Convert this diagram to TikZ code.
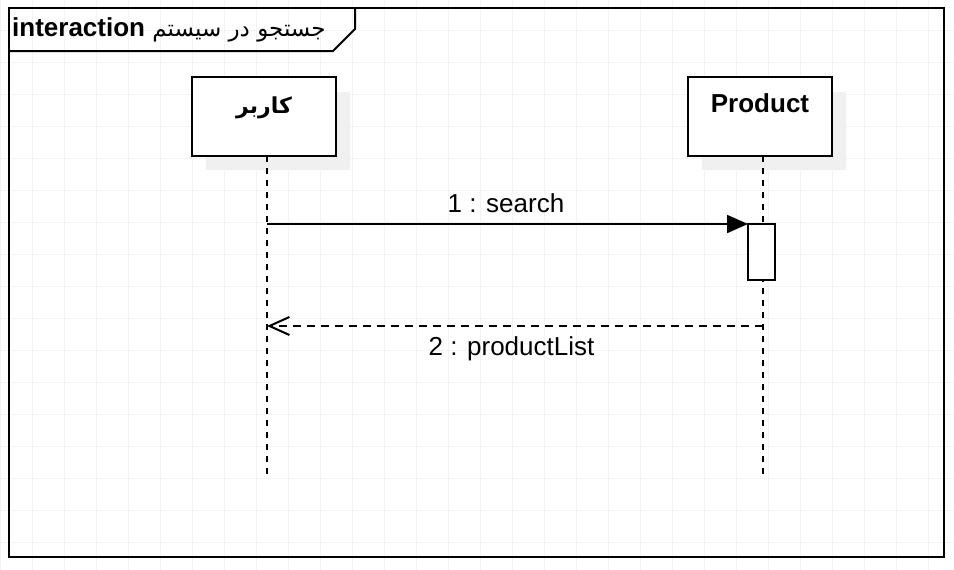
\documentclass[tikz,border=0pt]{standalone}
\usepackage{fontspec}
\setmainfont{Liberation Sans}
\newfontfamily\arabicfont[Script=Arabic]{DejaVu Sans}
\TeXXeTstate=1
\usetikzlibrary{arrows.meta}
\definecolor{gridc}{RGB}{243,243,243}
\definecolor{shadowc}{RGB}{240,240,240}
\begin{document}
\begin{tikzpicture}[x=1pt,y=-1pt,
  lbl/.style={font=\fontsize{26}{30}\selectfont, inner sep=0pt, anchor=base},
  blbl/.style={font=\fontsize{26}{30}\selectfont\bfseries, inner sep=0pt, anchor=base},
  partbox/.style={draw, line width=2pt, fill=white, minimum width=144pt, minimum height=79pt, inner sep=0pt, outer sep=0pt, anchor=north west},
  actbox/.style={draw, line width=2pt, fill=white, minimum width=27pt, minimum height=56pt, inner sep=0pt, outer sep=0pt, anchor=north west},
  lifeline/.style={line width=2pt, dash pattern=on 6pt off 6pt},
  callmsg/.style={line width=2pt, -{Triangle[length=21pt,width=18pt]}},
  replymsg/.style={line width=2pt, dash pattern=on 8pt off 6pt, -{Straight Barb[length=20pt,width=18pt,line width=2pt]}},
  framepen/.style={line width=2pt}
]
\useasboundingbox (0,0) rectangle (954,570);
\fill[white] (0,0) rectangle (954,570);
% grid
\foreach \x in {0,32,...,954} \draw[gridc, line width=1pt] (\x,0) -- (\x,570);
\foreach \y in {30,62,...,570} \draw[gridc, line width=1pt] (0,\y) -- (954,\y);
% frame
\draw[framepen] (9,8) rectangle (944,557);
\draw[framepen] (9,51) -- (333,51) -- (355,29) -- (355,8);
\node[anchor=base west, inner sep=0pt] (title) at (12,36) {\fontsize{26}{30}\selectfont\textbf{interaction} {\arabicfont\fontsize{23}{28}\selectfont\beginR جستجو در سیستم\endR}};
% shadows
\fill[shadowc] (206,92) rectangle (350,170);
\fill[shadowc] (702,92) rectangle (846,170);
% participants
\node[partbox] (u) at (192,77) {};
\node[partbox] (p) at (688,77) {};
\node[blbl] (ut) at (264,113) {\arabicfont\fontsize{22}{28}\selectfont\bfseries\beginR کاربر\endR};
\node[blbl] (pt) at (760,112) {Product};
% lifelines
\coordinate (utop) at (267,156);
\coordinate (uend) at (267,476);
\coordinate (ptop) at (763,156);
\coordinate (pend) at (763,476);
\draw[lifeline] (utop) -- (uend);
\draw[lifeline] (ptop) -- (pend);
% activation
\node[actbox] (act) at (748,224) {};
% messages
\coordinate (m1s) at (267,224);
\draw[callmsg] (m1s) -- (act.north west);
\node[lbl] (l1) at (506,212) {1 : search};
\coordinate (m2s) at (763,326);
\coordinate (m2e) at (267,326);
\draw[replymsg] (m2s) -- (m2e);
\node[lbl] (l2) at (511.5,355) {2 : productList};
\end{tikzpicture}
\end{document}
